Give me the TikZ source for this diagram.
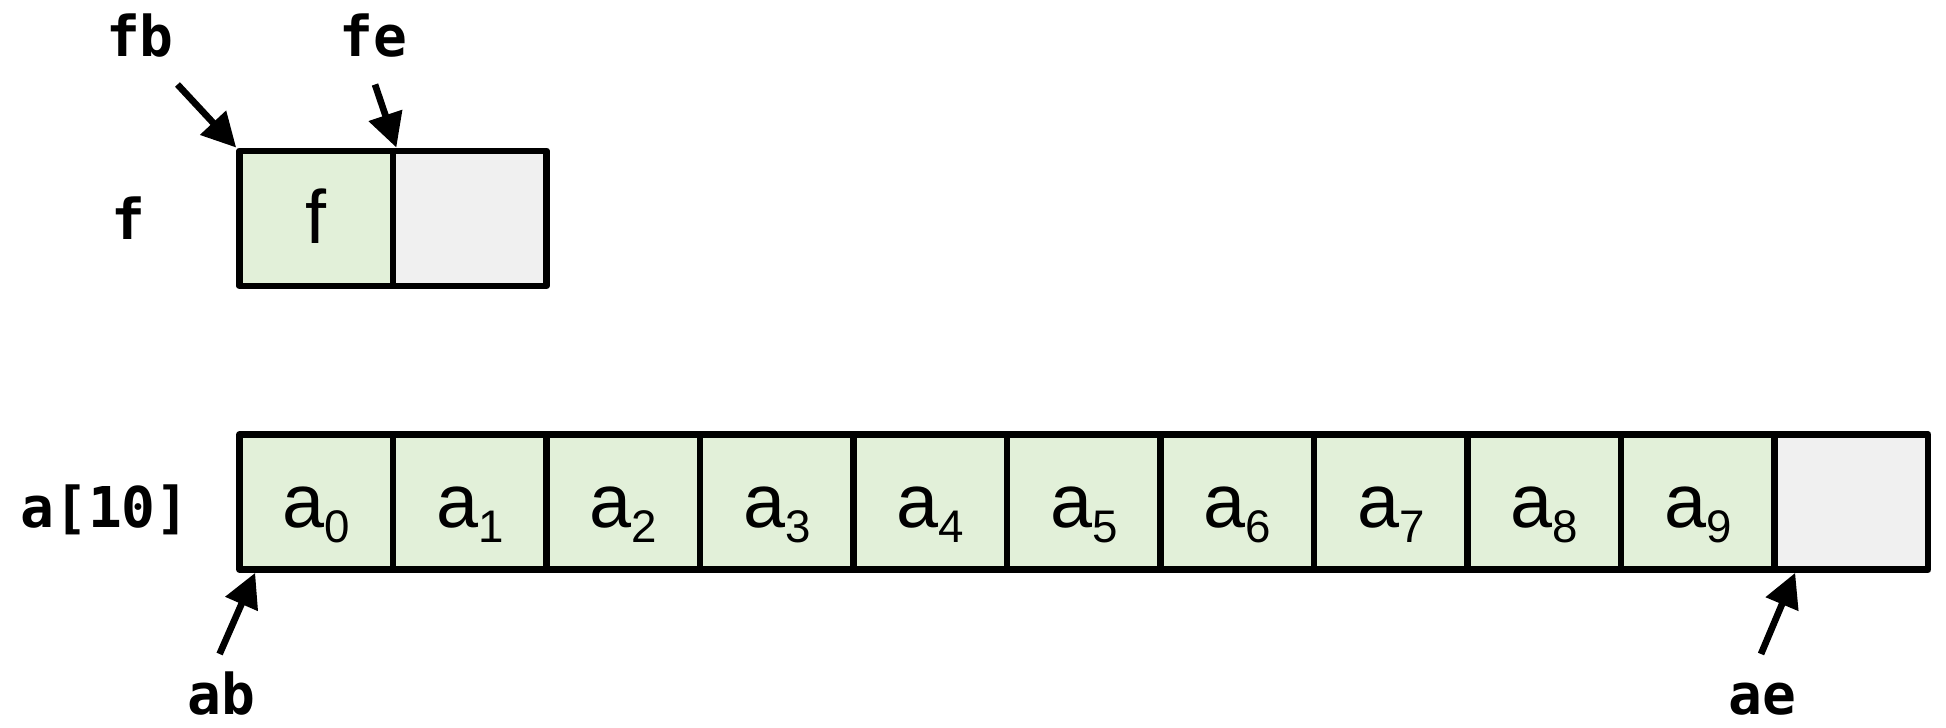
\documentclass[tikz,border=0pt]{standalone}
\usepackage{fontspec}
\setmainfont{Liberation Sans}
\setmonofont{DejaVu Sans Mono}
\usetikzlibrary{arrows.meta, positioning}

\definecolor{cellgreen}{HTML}{E2F0D9}
\definecolor{cellgrey}{HTML}{F0F0F0}

% element a_i of the array
\newcommand{\elem}[1]{a\raisebox{-1.5mm}{\fontsize{13}{13}\selectfont #1}}

\begin{document}
\begin{tikzpicture}[
    cell/.style={draw, line width=1.9pt, line join=round, minimum width=1.535cm, minimum height=1.35cm, inner sep=0pt, text height=5mm, text depth=0mm, font=\fontsize{21.5}{21.5}\selectfont},
    used/.style={cell, fill=cellgreen},
    spare/.style={cell, fill=cellgrey},
    var/.style={anchor=base, font=\ttfamily\bfseries\fontsize{16}{16}\selectfont},
    ptr/.style={-{Triangle[length=3.4mm, width=3.4mm]}, line width=1.9pt}
]
    \useasboundingbox (0,0) rectangle (19.46,-7.28);

    % f: one element and the slot past its end
    \node[used] (f0) at (3.1625,-2.184) {f};
    \node[spare] (f1) at (4.6975,-2.184) {};
    \node[var] (fname) at (1.28,-2.40) {f};

    % a[10]: ten elements and the slot past the end
    \foreach \i in {0,...,9}
        \node[used] (a\i) at ({3.1625+1.535*\i},-5.02) {\elem{\i}};
    \node[spare] (a10) at ({3.1625+1.535*10},-5.02) {};
    \node[var] (aname) at (1.05,-5.27) {a[10]};

    % begin/end pointers
    \node[var] (fb) at (1.40,-0.57) {fb};
    \node[var] (fe) at (3.735,-0.57) {fe};
    \node[var] (ab) at (2.21,-7.14) {ab};
    \node[var] (ae) at (17.62,-7.14) {ae};

    \coordinate (fbtail) at (1.775,-0.845);
    \coordinate (fetail) at (3.75,-0.845);
    \coordinate (abtail) at (2.196,-6.54);
    \coordinate (aetail) at (17.61,-6.54);

    \draw[ptr] (fbtail) -- (f0.north west);
    \draw[ptr] (fetail) -- (f0.north east);
    \draw[ptr] (abtail) -- ([xshift=1.9mm]a0.south west);
    \draw[ptr] (aetail) -- ([xshift=2.4mm]a10.south west);
\end{tikzpicture}
\end{document}
